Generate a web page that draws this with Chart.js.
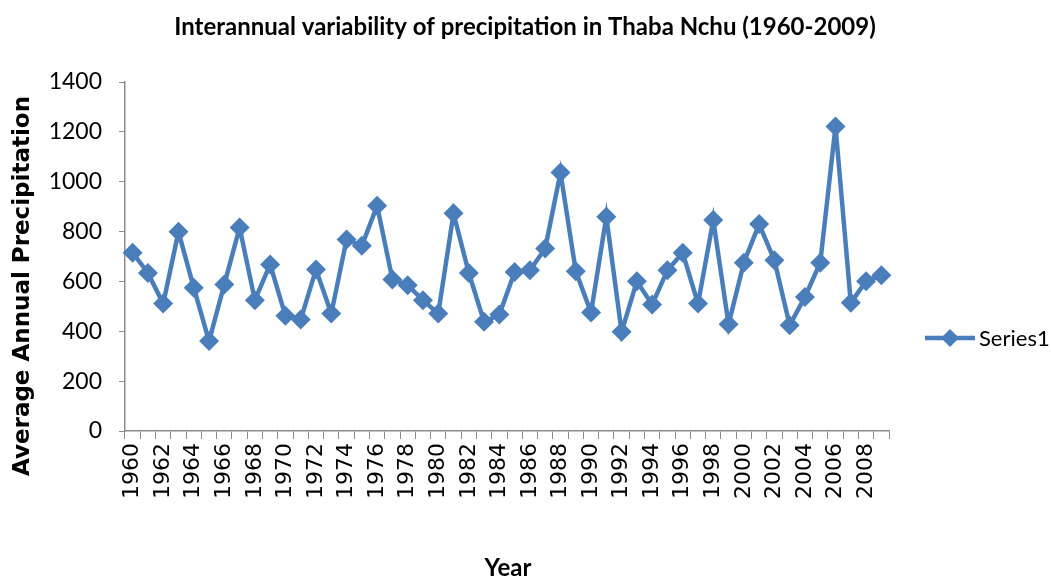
<!DOCTYPE html>
<html>
<head>
<meta charset="utf-8">
<script src="https://cdn.jsdelivr.net/npm/chart.js@4"></script>
<style>
  html, body { margin: 0; padding: 0; background: #fff; }
  #wrap { width: 1052px; height: 582px; }
</style>
</head>
<body>
<div id="wrap"><canvas id="precipChart" width="1052" height="582"></canvas></div>
<script>
const years = [
  1960, 1961, 1962, 1963, 1964, 1965, 1966, 1967, 1968, 1969,
  1970, 1971, 1972, 1973, 1974, 1975, 1976, 1977, 1978, 1979,
  1980, 1981, 1982, 1983, 1984, 1985, 1986, 1987, 1988, 1989,
  1990, 1991, 1992, 1993, 1994, 1995, 1996, 1997, 1998, 1999,
  2000, 2001, 2002, 2003, 2004, 2005, 2006, 2007, 2008, 2009,
];

const series1 = [
  715, 634, 511, 799, 575, 361, 588, 816, 525, 668,
  462, 447, 648, 471, 768, 743, 904, 608, 585, 525,
  471, 873, 634, 438, 467, 638, 645, 732, 1037, 641,
  475, 859, 398, 601, 507, 645, 715, 511, 846, 428,
  675, 830, 685, 424, 538, 675, 1221, 514, 601, 625,
];

const yTicks = [0, 200, 400, 600, 800, 1000, 1200, 1400];

const chartTitle = "Interannual variability of precipitation in Thaba Nchu (1960-2009)";

const blue = "#4a7ebb";
const axisGray = "#8c8c8c";

// title, axis titles + legend, drawn where the original puts them
const extras = {
  id: "extras",
  afterDraw(chart) {
    const ctx = chart.ctx;
    ctx.save();
    ctx.fillStyle = "#000";
    ctx.textAlign = "center";
    ctx.textBaseline = "middle";

    ctx.font = "bold 24px Lato";
    ctx.fillText(chartTitle, 525, 27);

    ctx.translate(23, 286);
    ctx.rotate(-Math.PI / 2);
    ctx.font = "bold 23px 'DejaVu Sans'";
    ctx.fillText("Average Annual Precipitation", 0, 0);
    ctx.setTransform(1, 0, 0, 1, 0, 0);

    ctx.font = "bold 24px Lato";
    ctx.fillText("Year", 508, 568);

    // legend
    ctx.strokeStyle = blue;
    ctx.lineWidth = 4.5;
    ctx.beginPath();
    ctx.moveTo(925, 338);
    ctx.lineTo(975, 338);
    ctx.stroke();
    ctx.fillStyle = blue;
    ctx.beginPath();
    ctx.moveTo(950, 329);
    ctx.lineTo(959, 338);
    ctx.lineTo(950, 347);
    ctx.lineTo(941, 338);
    ctx.closePath();
    ctx.fill();
    ctx.fillStyle = "#000";
    ctx.font = "22px Lato";
    ctx.textAlign = "left";
    ctx.fillText("Series1", 979, 339);
    ctx.restore();
  },
};

new Chart(document.getElementById("precipChart"), {
  type: "line",
  data: {
    labels: years.map(String),
    datasets: [
      {
        label: "Series1",
        data: series1,
        borderColor: blue,
        backgroundColor: blue,
        borderWidth: 4.5,
        tension: 0,
        pointStyle: "rectRot",
        pointRadius: 10,
        pointBorderWidth: 0,
        pointBackgroundColor: blue,
      },
    ],
  },
  options: {
    responsive: false,
    animation: false,
    layout: { padding: { top: 82, right: 163, bottom: 0, left: 0 } },
    plugins: {
      legend: { display: false },
      tooltip: { enabled: false },
      title: { display: false },
    },
    scales: {
      x: {
        type: "category",
        offset: true,
        afterFit(scale) { scale.height = 151; },
        grid: {
          display: true,
          offset: true,
          drawOnChartArea: false,
          drawTicks: true,
          tickLength: 8,
          color: axisGray,
        },
        border: { color: axisGray, width: 1.5 },
        ticks: {
          autoSkip: false,
          minRotation: 90,
          maxRotation: 90,
          padding: 4,
          color: "#000",
          font: { family: "'DejaVu Sans'", size: 22 },
          callback(value, index) {
            return index % 2 === 0 ? years[index] : "";
          },
        },
      },
      y: {
        min: 0,
        max: 1400,
        afterFit(scale) { scale.width = 125; },
        afterBuildTicks(scale) {
          scale.ticks = yTicks.map((v) => ({ value: v }));
        },
        grid: {
          display: true,
          drawOnChartArea: false,
          drawTicks: true,
          tickLength: 6,
          color: axisGray,
        },
        border: { color: axisGray, width: 1.5 },
        ticks: {
          padding: 17,
          color: "#000",
          font: { family: "Lato", size: 23 },
          callback: (value) => String(value),
        },
      },
    },
  },
  plugins: [extras],
});
</script>
</body>
</html>
